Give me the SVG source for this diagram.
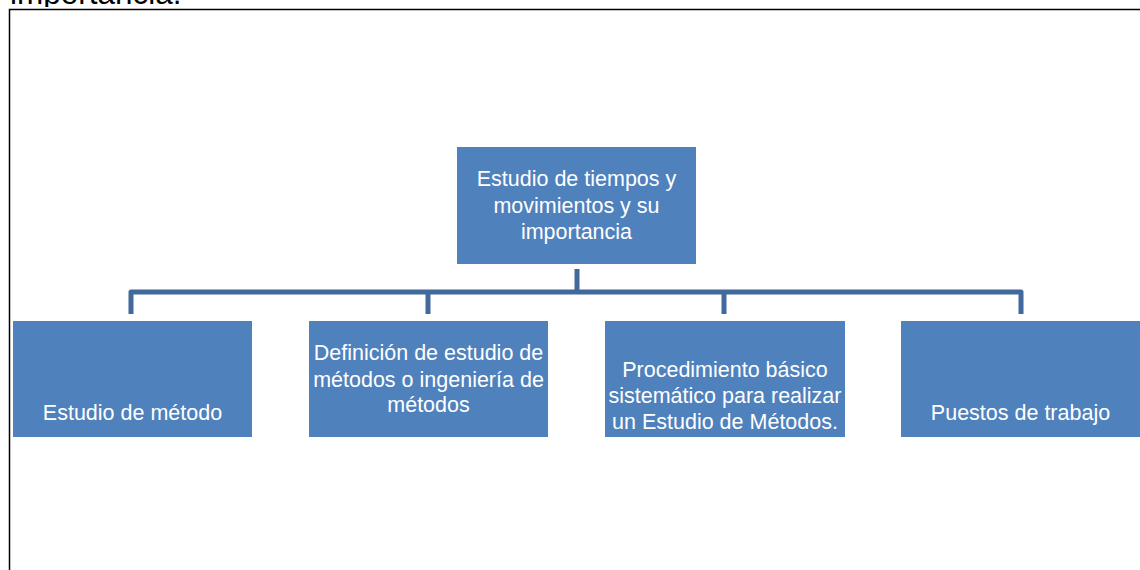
<svg xmlns="http://www.w3.org/2000/svg" width="1140" height="570" viewBox="0 0 1140 570">
<defs>
<style>
.box{fill:#4F81BD;}
.lbl{font-family:"Liberation Sans",Arial,sans-serif;font-size:21.5px;fill:#FFFFFF;text-anchor:middle;}
.conn{fill:none;stroke:#41699B;stroke-width:5;stroke-linejoin:round;}
</style>
<clipPath id="topclip"><rect x="0" y="0" width="1140" height="7"/></clipPath>
</defs>
<rect width="1140" height="570" fill="#FFFFFF"/>
<text x="10" y="4" font-family="'Liberation Sans',Arial,sans-serif" font-size="31.5" fill="#000000" clip-path="url(#topclip)">importancia.</text>
<path d="M9.5,570 V9.5 H1140" fill="none" stroke="#000000" stroke-width="1.5"/>
<g id="connectors">
<path class="conn" d="M577,269 V292"/>
<path class="conn" d="M131,314 V292 H1021 V314"/>
<path class="conn" d="M428,292 V314"/>
<path class="conn" d="M724,292 V314"/>
</g>
<g id="root">
<rect class="box" x="457" y="147" width="239" height="117"/>
<text class="lbl" x="576.5" y="186">Estudio de tiempos y</text>
<text class="lbl" x="576.5" y="213">movimientos y su</text>
<text class="lbl" x="576.5" y="239">importancia</text>
</g>
<g id="n1">
<rect class="box" x="13" y="321" width="239" height="116"/>
<text class="lbl" x="132.5" y="420">Estudio de método</text>
</g>
<g id="n2">
<rect class="box" x="309" y="321" width="239" height="116"/>
<text class="lbl" x="428.5" y="360">Definición de estudio de</text>
<text class="lbl" x="428.5" y="386.5">métodos o ingeniería de</text>
<text class="lbl" x="428.5" y="412">métodos</text>
</g>
<g id="n3">
<rect class="box" x="605" y="321" width="240" height="116"/>
<text class="lbl" x="725" y="377">Procedimiento básico</text>
<text class="lbl" x="725" y="403">sistemático para realizar</text>
<text class="lbl" x="725" y="429">un Estudio de Métodos.</text>
</g>
<g id="n4">
<rect class="box" x="901" y="321" width="239" height="116"/>
<text class="lbl" x="1020.5" y="420">Puestos de trabajo</text>
</g>
</svg>
